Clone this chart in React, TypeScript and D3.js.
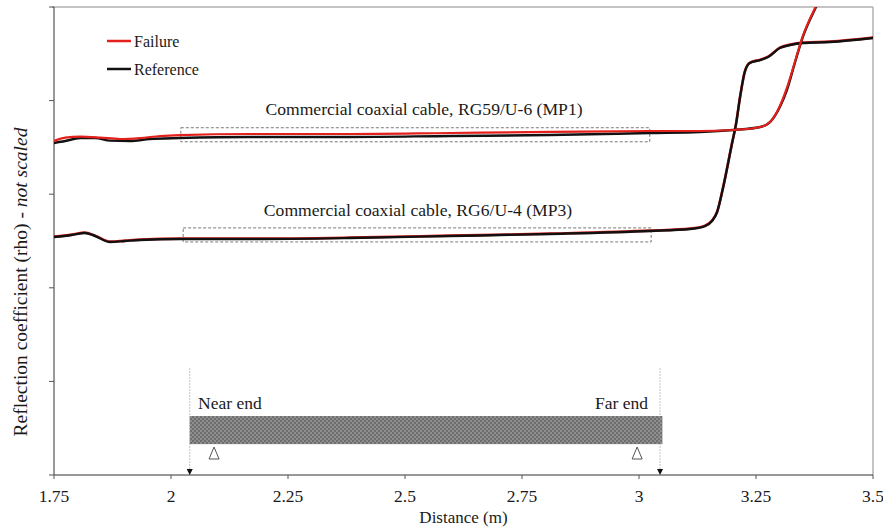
import React from "react";
import * as d3 from "d3";

// Distance (m) and reflection coefficient (arbitrary, not scaled)
const mp1RefX = [1.75, 1.774, 1.806, 1.838, 1.87, 1.912, 1.955, 2.019, 2.169, 2.382, 2.596, 2.81, 3.024, 3.13, 3.201, 3.259, 3.28, 3.301, 3.316, 3.333, 3.35, 3.365, 3.38, 3.397];
const mp1RefY = [3.547, 3.568, 3.6, 3.6, 3.572, 3.568, 3.59, 3.6, 3.611, 3.611, 3.622, 3.632, 3.654, 3.665, 3.686, 3.718, 3.771, 3.932, 4.113, 4.402, 4.679, 4.861, 5.02, 5.23];
const mp1FailX = [1.75, 1.774, 1.806, 1.849, 1.891, 1.934, 1.977, 2.019, 2.169, 2.382, 2.596, 2.81, 3.024, 3.13, 3.201, 3.259, 3.28, 3.301, 3.316, 3.333, 3.35, 3.365, 3.38, 3.397];
const mp1FailY = [3.568, 3.605, 3.615, 3.605, 3.59, 3.6, 3.622, 3.632, 3.643, 3.643, 3.654, 3.665, 3.675, 3.675, 3.686, 3.718, 3.771, 3.942, 4.135, 4.412, 4.69, 4.872, 5.03, 5.24];
const mp3RefX = [1.75, 1.788, 1.816, 1.838, 1.87, 1.902, 1.934, 2.019, 2.169, 2.382, 2.596, 2.81, 3.024, 3.109, 3.141, 3.156, 3.167, 3.18, 3.199, 3.207, 3.216, 3.226, 3.237, 3.259, 3.276, 3.301, 3.323, 3.35, 3.408, 3.5];
const mp3RefY = [2.543, 2.564, 2.585, 2.553, 2.489, 2.5, 2.511, 2.521, 2.521, 2.532, 2.553, 2.575, 2.607, 2.628, 2.66, 2.714, 2.81, 3.077, 3.547, 3.739, 4.038, 4.306, 4.402, 4.433, 4.466, 4.562, 4.594, 4.615, 4.626, 4.669];
const mp3FailY = mp3RefY.map((v) => v + 0.004);

const xTicks = [1.75, 2, 2.25, 2.5, 2.75, 3, 3.25, 3.5];
const xTickLabels = ["1.75", "2", "2.25", "2.5", "2.75", "3", "3.25", "3.5"];
const yTicks = [0, 1, 2, 3, 4, 5];

const legendItems = [
  { label: "Failure", color: "#e3201b" },
  { label: "Reference", color: "#111111" },
];

const labelMP1 = "Commercial coaxial cable, RG59/U-6 (MP1)";
const labelMP3 = "Commercial coaxial cable, RG6/U-4 (MP3)";
// dashed boxes [x0, x1, y0, y1]
const boxMP1 = [2.021, 3.023, 3.56, 3.71];
const boxMP3 = [2.026, 3.026, 2.49, 2.64];
// cable illustration
const cableX = [2.04, 3.05];
const cableY = [0.33, 0.63];
const endMarkers = [2.04, 3.045];
const triangleMarkers = [2.092, 2.996];
const guideTopY = 1.14;

const FONT = "Liberation Serif";

export default function App() {
  const W = 883, H = 528;
  const left = 54, right = 873, top = 7, bottom = 475;
  const x = d3.scaleLinear().domain([1.75, 3.5]).range([left, right]);
  const y = d3.scaleLinear().domain([0, 5]).range([bottom, top]);

  const path = (xs: number[], ys: number[]) =>
    d3.line<[number, number]>()
      .x((d) => x(d[0]))
      .y((d) => y(d[1]))
      .curve(d3.curveMonotoneX)(xs.map((v, i) => [v, ys[i]]))!;

  const T = (props: any) => <text fontFamily={FONT} fill="#1a1a1a" fontSize={16} {...props} />;

  return (
    <svg width={W} height={H} style={{ position: "absolute", left: 0, top: 0 }}>
      <defs>
        <clipPath id="plotclip">
          <rect x={left} y={top} width={right - left} height={bottom - top} />
        </clipPath>
        <pattern id="hatch" width="4" height="4" patternUnits="userSpaceOnUse">
          <rect width="4" height="4" fill="#8e8e8e" />
          <rect width="2" height="2" fill="#6e6e6e" />
          <rect x="2" y="2" width="2" height="2" fill="#6e6e6e" />
        </pattern>
      </defs>
      <rect width={W} height={H} fill="#fff" />
      {/* frame */}
      <line x1={left - 2} x2={right} y1={top} y2={top} stroke="#b0b0b0" strokeWidth={1.5} />
      <line x1={right} x2={right} y1={top} y2={bottom} stroke="#b0b0b0" strokeWidth={1.5} />
      <line x1={left} x2={left} y1={top} y2={bottom} stroke="#333" strokeWidth={1} />
      <line x1={left} x2={right} y1={bottom} y2={bottom} stroke="#333" strokeWidth={1} />
      {yTicks.map((t) => (
        <line key={t} x1={left - 5} x2={left} y1={y(t)} y2={y(t)} stroke="#555" strokeWidth={1} />
      ))}
      {xTicks.map((t, i) => (
        <g key={t}>
          <line x1={x(t)} x2={x(t)} y1={bottom} y2={bottom + 4} stroke="#555" strokeWidth={1} />
          <T x={x(t)} y={502} textAnchor="middle" fontSize={17.5}>{xTickLabels[i]}</T>
        </g>
      ))}
      <T x={(left + right) / 2} y={523} textAnchor="middle" fontSize={17}>Distance (m)</T>
      <T transform={`translate(27, 282) rotate(-90)`} textAnchor="middle" fontSize={19.5}>
        Reflection coefficient (rho) - <tspan fontStyle="italic">not scaled</tspan>
      </T>

      {/* dashed boxes */}
      {[boxMP1, boxMP3].map((b, i) => (
        <rect key={i} x={x(b[0])} y={y(b[3])} width={x(b[1]) - x(b[0])} height={y(b[2]) - y(b[3])}
          fill="none" stroke="#555" strokeWidth={0.8} strokeDasharray="3,2" />
      ))}
      <T x={424} y={115} textAnchor="middle" fontSize={17.6}>{labelMP1}</T>
      <T x={418} y={216} textAnchor="middle" fontSize={17.6}>{labelMP3}</T>

      {/* curves */}
      <g clipPath="url(#plotclip)" fill="none" strokeLinejoin="round" strokeLinecap="round">
        <path d={path(mp3RefX, mp3FailY)} stroke={legendItems[0].color} strokeWidth={2.6} />
        <path d={path(mp3RefX, mp3RefY)} stroke={legendItems[1].color} strokeWidth={2.4} />
        <path d={path(mp1RefX, mp1RefY)} stroke={legendItems[1].color} strokeWidth={2.4} />
        <path d={path(mp1FailX, mp1FailY)} stroke={legendItems[0].color} strokeWidth={2.2} />
      </g>

      {/* legend */}
      {legendItems.map((it, i) => (
        <g key={it.label}>
          <line x1={107} x2={131} y1={41 + i * 28} y2={41 + i * 28} stroke={it.color} strokeWidth={2.5} />
          <T x={134} y={47 + i * 28}>{it.label}</T>
        </g>
      ))}

      {/* cable illustration */}
      <rect x={x(cableX[0])} y={y(cableY[1])} width={x(cableX[1]) - x(cableX[0])} height={y(cableY[0]) - y(cableY[1])} fill="url(#hatch)" />
      {endMarkers.map((m, i) => (
        <g key={i}>
          <line x1={x(m)} x2={x(m)} y1={y(guideTopY)} y2={bottom - 5} stroke="#999" strokeWidth={0.8} strokeDasharray="1.5,1.5" />
          <path d={`M${x(m) - 3},${bottom - 6} L${x(m) + 3},${bottom - 6} L${x(m)},${bottom} Z`} fill="#111" />
        </g>
      ))}
      {triangleMarkers.map((m, i) => (
        <path key={i} d={`M${x(m)},${447} L${x(m) - 5},${459} L${x(m) + 5},${459} Z`} fill="#fff" stroke="#555" strokeWidth={1} />
      ))}
      <T x={198} y={409} fontSize={17.5}>Near end</T>
      <T x={648} y={409} textAnchor="end" fontSize={17.5}>Far end</T>
    </svg>
  );
}
